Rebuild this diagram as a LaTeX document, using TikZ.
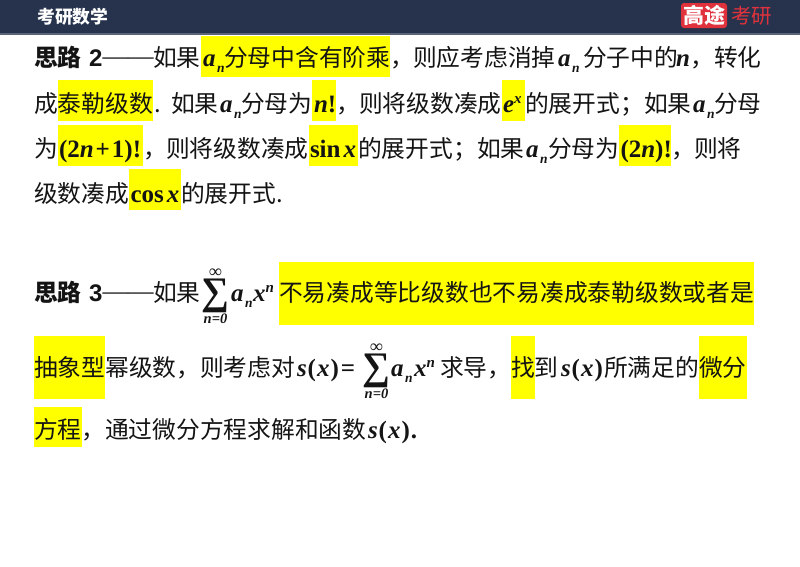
\documentclass[tikz,border=0pt]{standalone}
\usepackage{fontspec}
\newfontfamily\cjk{Noto Sans CJK SC}
\newfontfamily\serifm{Liberation Serif}
\newfontfamily\sansm{Liberation Sans}
\definecolor{bar}{RGB}{39,51,77}
\definecolor{barline}{RGB}{90,100,120}
\definecolor{logored}{RGB}{224,50,60}
\definecolor{ink}{RGB}{20,20,20}
\definecolor{hlyellow}{RGB}{255,255,0}
\newcommand{\mi}{\serifm\bfseries\itshape}
\newcommand{\mr}{\serifm\bfseries}
\newcommand{\sz}[1]{\fontsize{#1}{#1}\selectfont}
\newcommand{\subn}{\kern1.5pt\raisebox{-6pt}{\sz{13.5}\mi n}}
\newcommand{\an}{{\mi\sz{25}a\subn}}
\newcommand{\sn}{\raisebox{9.5pt}{\sz{15}\mi x}}
\newcommand{\xn}{{\mi\sz{25}x\raisebox{9.5pt}{\serifm\itshape\sz{15}n}}}
\newcommand{\sx}{{\mi\sz{25}s\kern1pt}{\mr\sz{25}(\kern1pt}{\mi\sz{25}x\kern1pt}{\mr\sz{25})}}
\newcommand{\dashes}{\raisebox{2pt}{\serifm\sz{25.5}\symbol{"2014}\symbol{"2014}}}
\newcounter{segno}
\newcommand{\seg}[3]{\stepcounter{segno}\node[seg] (s\thesegno) at (#1,#2+0.8) {#3};}
\newcommand{\hl}[4]{\fill[hlyellow] (#1,#3) rectangle (#2,#4);}
\newcommand{\bigsum}[3]{% x of centre, baseline, name
  \node[seg,anchor=base] (#3) at (#1,#2) {\mr\sz{39}\symbol{"2211}};
  \node[seg,anchor=base] (#3top) at (#1,#2-26.5) {\mr\sz{18}\symbol{"221E}};
  \node[seg,anchor=base] (#3bot) at (#1,#2+19) {\mi\sz{14.5}n\mr\sz{14.5}=0};}
\tikzset{seg/.style={anchor=base west,inner sep=0pt,outer sep=0pt,text=ink,font=\cjk\sz{23.75}}}
\begin{document}
\begin{tikzpicture}[x=1pt,y=-1pt]
\useasboundingbox (0,0) rectangle (800,566);
\fill[white] (0,0) rectangle (800,566);
\fill[bar] (0,0) rectangle (800,34);
\fill[barline] (0,33.2) rectangle (800,34.5);
% logo
\node[fill=logored,rounded corners=3pt,minimum width=46pt,minimum height=25pt,inner sep=0pt,text=white,font=\cjk\bfseries\sz{21}] (logo) at (704,15.5) {高途};
\node[inner sep=0pt,text=logored,font=\cjk\sz{20.5}] (logotext) at (751.5,15.5) {考研};
\node[inner sep=0pt,text=white,font=\cjk\bfseries\sz{17.8},anchor=west] (title) at (37,17) {考研数学};
% highlights
\hl{201}{390}{36}{77}
\hl{58}{153}{80}{121}
\hl{312}{336}{80}{121}
\hl{502}{525}{80}{121}
\hl{58}{143}{125}{166}
\hl{309}{358}{125}{166}
\hl{619}{671}{125}{166}
\hl{129}{181}{169}{210}
\hl{279}{754}{262}{325}
\hl{34}{105}{336}{399}
\hl{511}{535}{336}{399}
\hl{699}{747}{336}{399}
\hl{34}{82}{407}{447}
% line 1
\seg{34}{66}{\bfseries 思路}
\seg{89}{66}{\sansm\bfseries\sz{24}2}
\seg{102.5}{66}{\dashes}
\seg{153}{66}{如果}
\seg{203}{66}{\an}
\seg{224}{66}{分母中含有阶乘，}
\seg{413}{66}{则应考虑消掉}
\seg{558}{66}{\an}
\seg{583}{66}{分子中的}
\seg{676}{66}{{\mi\sz{25}n}}
\seg{690}{66}{，}
\seg{714}{66}{转化}
% line 2
\seg{34}{112}{成泰勒级数}
\seg{154}{112}{.}
\seg{171}{112}{如果}
\seg{220}{112}{\an}
\seg{241}{112}{分母为}
\seg{314}{112}{{\mi\sz{25}n}{\mr\sz{25}!}}
\seg{336}{112}{，}
\seg{359}{112}{则将级数凑成}
\seg{503}{112}{{\mi\sz{25}e}\sn}
\seg{525}{112}{的展开式；}
\seg{644}{112}{如果}
\seg{693}{112}{\an}
\seg{714}{112}{分母}
% line 3
\seg{34}{157}{为}
\seg{59}{157}{{\mr\sz{25}(2}{\mi\sz{25}n}{\mr\sz{25}\kern2pt+\kern2pt1)!}}
\seg{143}{157}{，}
\seg{166}{157}{则将级数凑成}
\seg{310}{157}{{\mr\sz{25}sin\kern3pt}{\mi\sz{25}x}}
\seg{358}{157}{的展开式；}
\seg{477}{157}{如果}
\seg{526}{157}{\an}
\seg{548}{157}{分母为}
\seg{620.5}{157}{{\mr\sz{25}(2}{\mi\sz{25}n}{\mr\sz{25})!}}
\seg{671}{157}{，}
\seg{694}{157}{则将}
% line 4
\seg{34}{202}{级数凑成}
\seg{130.5}{202}{{\mr\sz{25}cos\kern3pt}{\mi\sz{25}x}}
\seg{181}{202}{的展开式.}
% line 5
\seg{34}{301}{\bfseries 思路}
\seg{89}{301}{\sansm\bfseries\sz{24}3}
\seg{102.5}{301}{\dashes}
\seg{153}{301}{如果}
\bigsum{215.5}{304}{sumA}
\seg{231}{301}{\an}
\seg{253}{301}{\xn}
\seg{279}{301}{不易凑成等比级数也不易凑成泰勒级数或者是}
% line 6
\seg{34}{376}{抽象型幂级数，}
\seg{200}{376}{则考虑对}
\seg{297}{376}{\sx{\mr\sz{25}\kern2pt=}}
\bigsum{376.5}{379}{sumB}
\seg{391}{376}{\an}
\seg{414}{376}{\xn}
\seg{440}{376}{求导，}
\seg{511}{376}{找到}
\seg{561}{376}{\sx}
\seg{604}{376}{所满足的微分}
% line 7
\seg{34}{438}{方程，}
\seg{105}{438}{通过微分方程求解和函数}
\seg{368}{438}{\sx{\mr\sz{25}\kern1pt.}}
\end{tikzpicture}
\end{document}
